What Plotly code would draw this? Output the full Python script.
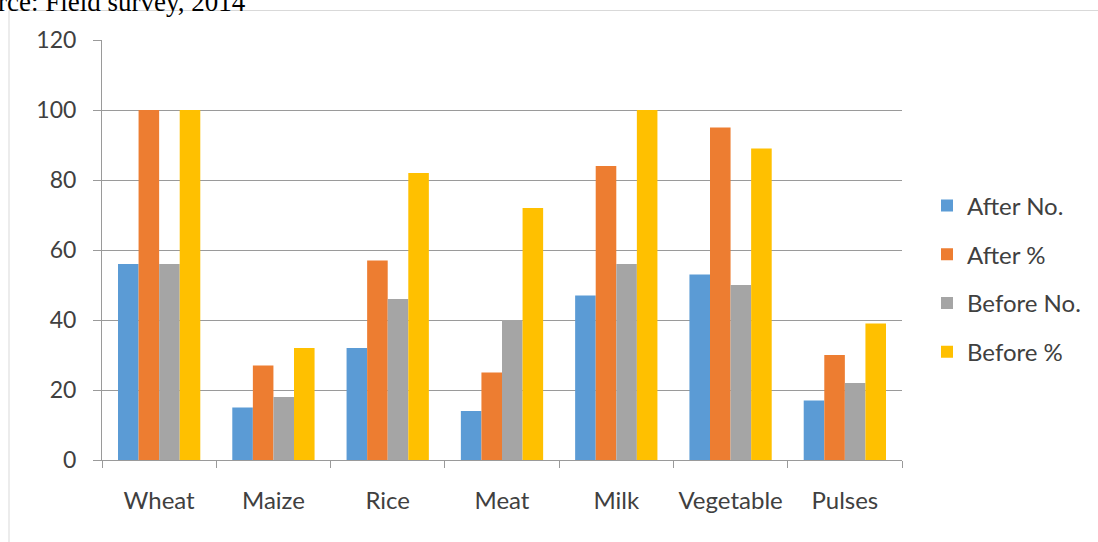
import plotly.graph_objects as go

categories = ["Wheat", "Maize", "Rice", "Meat", "Milk", "Vegetable", "Pulses"]
after_no = [56, 15, 32, 14, 47, 53, 17]
after_pct = [100, 27, 57, 25, 84, 95, 30]
before_no = [56, 18, 46, 40, 56, 50, 22]
before_pct = [100, 32, 82, 72, 100, 89, 39]

series = [
    ("After No.", after_no, "#5B9BD5"),
    ("After %", after_pct, "#ED7D31"),
    ("Before No.", before_no, "#A5A5A5"),
    ("Before %", before_pct, "#FFC000"),
]

W, H = 1098, 542
L, R, T, B = 102, 196, 40, 82
PW, PH = W - L - R, H - T - B

def px(x):
    return (x - L) / PW

def py(y):
    return (H - B - y) / PH

fig = go.Figure()
for i, (name, vals, col) in enumerate(series):
    fig.add_trace(go.Bar(x=categories, y=vals, name=name, marker_color=col,
                         marker_line_width=0, legendgroup=f"g{i}"))

font = "Lato, 'Open Sans', sans-serif"
gridc = "#9a9a9a"

fig.update_layout(
    width=W, height=H,
    margin=dict(l=L, r=R, t=T, b=B, pad=0),
    paper_bgcolor="white", plot_bgcolor="white",
    barmode="group", bargap=0.28, bargroupgap=0,
    font=dict(family=font, size=23, color="#404040"),
    showlegend=True,
    legend=dict(x=px(927), xanchor="left", y=py(279), yanchor="middle",
                font=dict(family=font, size=24, color="#404040"),
                traceorder="grouped", tracegroupgap=14.5,
                bgcolor="rgba(0,0,0,0)"),
    xaxis=dict(showline=True, linecolor=gridc, linewidth=1,
               ticks="outside", tickson="boundaries", ticklen=7, tickcolor=gridc,
               showgrid=False, tickfont=dict(size=24, color="#404040"),
               ticklabelstandoff=19),
    yaxis=dict(range=[0, 120], dtick=20, tick0=0, showline=True, linecolor=gridc,
               linewidth=1, ticks="outside", ticklen=8, tickcolor=gridc,
               showgrid=True, gridcolor=gridc, gridwidth=1, zeroline=False,
               tickfont=dict(size=23, color="#404040"), ticklabelstandoff=12),
    shapes=[dict(type="rect", xref="paper", yref="paper",
                 x0=px(9), x1=px(1110), y0=py(570), y1=py(10.5),
                 line=dict(color="#d9d9d9", width=1), fillcolor="rgba(0,0,0,0)",
                 layer="below")],
    annotations=[dict(text="Source: Field survey, 2014", xref="paper", yref="paper",
                      x=px(248), xanchor="right", y=py(1.5), yanchor="middle",
                      showarrow=False,
                      font=dict(family="'Liberation Serif', 'Times New Roman', serif",
                                size=27, color="black"))],
)

fig.write_html("out.html")
